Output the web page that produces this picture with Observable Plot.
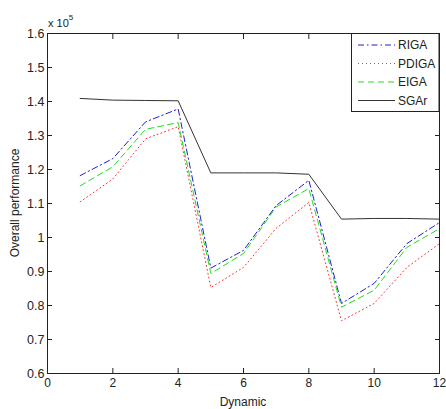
<!DOCTYPE html>
<html>
<head>
<meta charset="utf-8">
<script src="https://cdn.jsdelivr.net/npm/d3@7"></script>
<script src="https://cdn.jsdelivr.net/npm/@observablehq/plot@0.6"></script>
<style>
  html, body { margin: 0; padding: 0; background: #fff; }
  #chart { width: 446px; height: 409px; }
</style>
</head>
<body>
<div id="chart"></div>
<script>
// Data (values in units of 10^5)
const dynamics = [1, 2, 3, 4, 5, 6, 7, 8, 9, 10, 11, 12];
const RIGA  = [1.182, 1.232, 1.340, 1.378, 0.910, 0.962, 1.094, 1.168, 0.806, 0.865, 0.982, 1.044];
const PDIGA = [1.105, 1.172, 1.290, 1.326, 0.853, 0.912, 1.027, 1.103, 0.755, 0.806, 0.912, 0.982];
const EIGA  = [1.152, 1.208, 1.318, 1.338, 0.894, 0.953, 1.090, 1.144, 0.795, 0.845, 0.971, 1.026];
const SGAr  = [1.409, 1.404, 1.403, 1.402, 1.190, 1.190, 1.190, 1.186, 1.054, 1.056, 1.056, 1.054];
const seriesNames = ["RIGA", "PDIGA", "EIGA", "SGAr"];
const xTicks = [0, 2, 4, 6, 8, 10, 12];
const yTicks = [0.6, 0.7, 0.8, 0.9, 1.0, 1.1, 1.2, 1.3, 1.4, 1.5, 1.6];

const styles = {
  RIGA:  {stroke: "#2020d0", dash: "6,3,1.5,3"},
  PDIGA: {stroke: "#ff3030", dash: "1,3"},
  EIGA:  {stroke: "#20dd20", dash: "6,4"},
  SGAr:  {stroke: "#333333", dash: null}
};
const valuesBySeries = {RIGA, PDIGA, EIGA, SGAr};
const rows = seriesNames.flatMap(s => dynamics.map((d, i) => ({series: s, x: d, y: valuesBySeries[s][i]})));

const font = "Liberation Sans, Arial, sans-serif";
const fmtY = d => (Math.abs(d - 1) < 1e-9 ? "1" : d.toFixed(1));

const lineMarks = seriesNames.map(s => Plot.line(rows.filter(r => r.series === s), {
  x: "x", y: "y", stroke: styles[s].stroke, strokeWidth: 1,
  strokeDasharray: styles[s].dash, strokeLinejoin: "miter"
}));

const chart = Plot.plot({
  width: 446,
  height: 409,
  marginLeft: 47,
  marginRight: 7,
  marginTop: 33,
  marginBottom: 36,
  style: {fontFamily: font, fontSize: "12px", color: "#222", background: "#fff"},
  x: {domain: [0, 12]},
  y: {domain: [0.6, 1.6]},
  marks: [
    ...lineMarks,
    Plot.frame({stroke: "#222", strokeWidth: 1}),
    // labels
    Plot.axisX(xTicks, {anchor: "bottom", tickSize: 0, tickPadding: 5, tickFormat: d => String(d), label: null, fontSize: 12}),
    Plot.axisY(yTicks, {anchor: "left", tickSize: 0, tickPadding: 3, tickFormat: fmtY, label: null, fontSize: 12.5}),
    // inward ticks on all four sides
    Plot.axisX(xTicks, {anchor: "bottom", tickSize: -5, tickFormat: () => "", label: null, stroke: "#222"}),
    Plot.axisX(xTicks, {anchor: "top", tickSize: -5, tickFormat: () => "", label: null, stroke: "#222"}),
    Plot.axisY(yTicks, {anchor: "left", tickSize: -5, tickFormat: () => "", label: null, stroke: "#222"}),
    Plot.axisY(yTicks, {anchor: "right", tickSize: -5, tickFormat: () => "", label: null, stroke: "#222"})
  ]
});

document.getElementById("chart").appendChild(chart);

// Axis titles, exponent and legend added to the SVG
const svg = d3.select(chart);
svg.append("text")
  .attr("x", 243).attr("y", 406)
  .attr("text-anchor", "middle")
  .attr("font-family", font).attr("font-size", 12).attr("fill", "#222")
  .text("Dynamic");
svg.append("text")
  .attr("transform", "translate(19,203) rotate(-90)")
  .attr("text-anchor", "middle")
  .attr("font-family", font).attr("font-size", 12).attr("fill", "#222")
  .text("Overall performance");
const exp = svg.append("text")
  .attr("x", 48).attr("y", 27)
  .attr("text-anchor", "start")
  .attr("font-family", font).attr("font-size", 11).attr("fill", "#222");
exp.append("tspan").text("x 10");
exp.append("tspan").attr("dy", -7).attr("font-size", 8).text("5");

const lg = svg.append("g");
lg.append("rect")
  .attr("x", 351.5).attr("y", 33.5).attr("width", 87.5).attr("height", 78)
  .attr("fill", "#fff").attr("stroke", "#222").attr("stroke-width", 1);
seriesNames.forEach((s, i) => {
  const y = 45 + i * 18.5;
  lg.append("line")
    .attr("x1", 358).attr("x2", 395).attr("y1", y).attr("y2", y)
    .attr("stroke", styles[s].stroke).attr("stroke-width", 1)
    .attr("stroke-dasharray", styles[s].dash);
  lg.append("text")
    .attr("x", 398).attr("y", y).attr("dy", "0.35em")
    .attr("text-anchor", "start")
    .attr("font-family", font).attr("font-size", 12).attr("fill", "#222")
    .text(s);
});
</script>
</body>
</html>
